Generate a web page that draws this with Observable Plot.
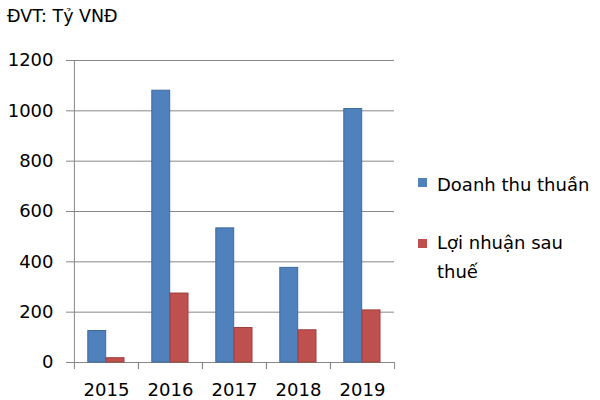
<!DOCTYPE html>
<html>
<head>
<meta charset="utf-8">
<script src="https://cdn.jsdelivr.net/npm/d3@7"></script>
<script src="https://cdn.jsdelivr.net/npm/@observablehq/plot@0.6"></script>
<style>
  body { margin: 0; background: #fff; }
  #wrap { position: relative; width: 600px; height: 400px; font-family: "DejaVu Sans", sans-serif; color: #000; }
  #title { position: absolute; left: 7px; top: 6px; font-size: 17.5px; }
  #legend { position: absolute; left: 418px; top: 170px; font-size: 18px; }
  .item { position: relative; padding-left: 19px; line-height: 29px; }
  .sw { position: absolute; left: 0; width: 9px; height: 9px; }
</style>
</head>
<body>
<div id="wrap">
  <div id="chart"></div>
  <div id="title">ĐVT: Tỷ VNĐ</div>
  <div id="legend"></div>
</div>
<script>
const years = ["2015", "2016", "2017", "2018", "2019"];
const revenue = [125, 1080, 533, 376, 1007];
const profit = [17, 274, 137, 128, 207];
const yTicks = [0, 200, 400, 600, 800, 1000, 1200];
const seriesNames = ["Doanh thu thuần", "Lợi nhuận sau thuế"];
const seriesFill = ["#4f81bd", "#c0504d"];
const seriesStroke = ["#3d6a9e", "#9e3e3b"];

const revData = years.map((y, i) => ({year: y, value: revenue[i]}));
const profData = years.map((y, i) => ({year: y, value: profit[i]}));

const half = 32.1; // half of a year band in px
const chart = Plot.plot({
  width: 600,
  height: 400,
  marginLeft: 73,
  marginRight: 206,
  marginTop: 60,
  marginBottom: 38,
  style: {fontFamily: "DejaVu Sans, sans-serif", fontSize: "17px", color: "#000", background: "transparent"},
  x: {domain: years, padding: 0, axis: null},
  y: {domain: [0, 1200], axis: null},
  marks: [
    Plot.gridY(yTicks, {stroke: "#878787", strokeOpacity: 1}),
    Plot.ruleX([years[0]], {x: d => d, y1: 0, y2: 1200, dx: -half, stroke: "#878787"}),
    Plot.ruleY([0], {stroke: "#878787"}),
    Plot.axisY({ticks: yTicks, tickFormat: d => String(d), label: null, tickSize: 7, tickPadding: 13, stroke: "#878787", fontSize: 18, fill: "#000"}),
    Plot.axisX({tickSize: 7, dx: -half, tickFormat: () => "", label: null, stroke: "#878787"}),
    Plot.axisX({tickSize: 7, dx: half, tickFormat: () => "", label: null, stroke: "#878787"}),
    Plot.axisX({tickSize: 0, tickPadding: 21, label: null, fontSize: 18, fill: "#000"}),
    Plot.barY(revData, {x: "year", y: "value", fill: seriesFill[0], stroke: seriesStroke[0], strokeWidth: 1, insetLeft: 13.8, insetRight: 32.3}),
    Plot.barY(profData, {x: "year", y: "value", fill: seriesFill[1], stroke: seriesStroke[1], strokeWidth: 1, insetLeft: 32.1, insetRight: 14})
  ]
});
document.getElementById("chart").appendChild(chart);

const legend = document.getElementById("legend");
legend.innerHTML =
  `<div class="item"><span class="sw" style="top:8px;background:${seriesFill[0]}"></span>${seriesNames[0]}</div>` +
  `<div class="item" style="margin-top:29px"><span class="sw" style="top:11px;background:${seriesFill[1]}"></span>Lợi nhuận sau<br>thuế</div>`;
</script>
</body>
</html>
